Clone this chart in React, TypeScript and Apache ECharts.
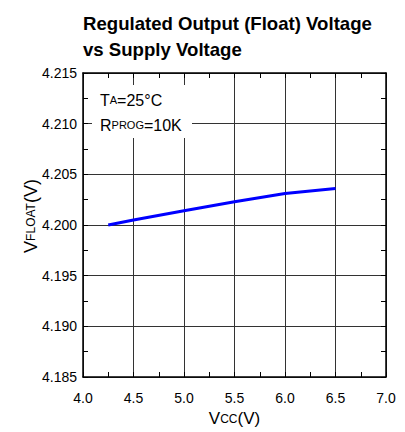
import React, { useEffect, useRef } from "react";
import * as echarts from "echarts";

const vcc = [4.25, 4.5, 5.0, 5.5, 6.0, 6.5];
const vfloat = [4.2, 4.2005, 4.2014, 4.2023, 4.2031, 4.2036];
const titleLines = ["Regulated Output (Float) Voltage", "vs Supply Voltage"];

const FONT = "'Liberation Sans', Arial, Helvetica, sans-serif";

export default function App() {
  const ref = useRef<HTMLDivElement>(null);
  useEffect(() => {
    const chart = echarts.init(ref.current!, null, { renderer: "svg" });
    const axisCommon = {
      axisLine: { show: true, onZero: false, lineStyle: { color: "#000", width: 1.5 } },
      axisTick: { show: true, inside: true, length: 5, lineStyle: { color: "#000", width: 1 } },
      minorTick: { show: true, splitNumber: 2, length: 5, lineStyle: { color: "#000", width: 1 } },
    };
    chart.setOption({
      animation: false,
      backgroundColor: "#fff",
      title: {
        text: titleLines.join("\n"),
        left: 83,
        top: 10,
        padding: 0,
        textStyle: { fontFamily: FONT, fontSize: 18.6, fontWeight: "bold", color: "#000", lineHeight: 26 },
      },
      grid: { left: 83, right: 19, top: 73, bottom: 50, show: false },
      xAxis: [
        {
          type: "value",
          min: 4.0,
          max: 7.0,
          interval: 0.5,
          position: "bottom",
          ...axisCommon,
          axisLabel: {
            margin: 14,
            fontFamily: FONT,
            fontSize: 14,
            color: "#000",
            formatter: (v: number) => v.toFixed(1),
          },
          splitLine: { show: true, lineStyle: { color: "#333", width: 1 } },
          name: "V{s|CC}(V)",
          nameLocation: "middle",
          nameGap: 33,
          nameMoveOverlap: false,
          nameTextStyle: {
            fontFamily: FONT,
            fontSize: 17,
            color: "#000",
            rich: { s: { fontFamily: FONT, fontSize: 12, color: "#000" } },
          },
        },
        {
          type: "value",
          min: 4.0,
          max: 7.0,
          interval: 0.5,
          position: "top",
          ...axisCommon,
          axisLabel: { show: false },
          splitLine: { show: false },
        },
      ],
      yAxis: [
        {
          type: "value",
          min: 4.185,
          max: 4.215,
          interval: 0.005,
          position: "left",
          ...axisCommon,
          axisLabel: {
            margin: 6,
            fontFamily: FONT,
            fontSize: 14,
            color: "#000",
            formatter: (v: number) => v.toFixed(3),
          },
          splitLine: { show: true, lineStyle: { color: "#333", width: 1 } },
          name: "V{s|FLOAT}(V)",
          nameLocation: "middle",
          nameRotate: 90,
          nameGap: 43,
          nameMoveOverlap: false,
          nameTextStyle: {
            fontFamily: FONT,
            fontSize: 18,
            color: "#000",
            padding: [0, 0, 0, 18],
            rich: { s: { fontFamily: FONT, fontSize: 12, color: "#000" } },
          },
        },
        {
          type: "value",
          min: 4.185,
          max: 4.215,
          interval: 0.005,
          position: "right",
          ...axisCommon,
          axisLabel: { show: false },
          splitLine: { show: false },
        },
      ],
      series: [
        {
          type: "line",
          data: vcc.map((x, i) => [x, vfloat[i]]),
          showSymbol: false,
          symbol: "none",
          lineStyle: { color: "#0000ff", width: 3 },
          xAxisIndex: 0,
          yAxisIndex: 0,
          z: 5,
        },
      ],
      graphic: [
        {
          type: "rect",
          shape: { x: 92, y: 85, width: 100, height: 53 },
          style: { fill: "#fff" },
          z: 10,
        },
        {
          type: "text",
          x: 100,
          y: 100,
          z: 11,
          style: {
            text: "T{s|A}=25°C",
            fontFamily: FONT,
            fontSize: 16,
            fill: "#000",
            verticalAlign: "middle",
            rich: { s: { fontFamily: FONT, fontSize: 11, fill: "#000" } },
          },
        },
        {
          type: "text",
          x: 100,
          y: 125,
          z: 11,
          style: {
            text: "R{s|PROG}=10K",
            fontFamily: FONT,
            fontSize: 16,
            fill: "#000",
            verticalAlign: "middle",
            rich: { s: { fontFamily: FONT, fontSize: 11, fill: "#000" } },
          },
        },
      ],
    });
    return () => chart.dispose();
  }, []);
  return <div ref={ref} style={{ width: 405, height: 432, position: "absolute", left: 0, top: 0 }} />;
}
